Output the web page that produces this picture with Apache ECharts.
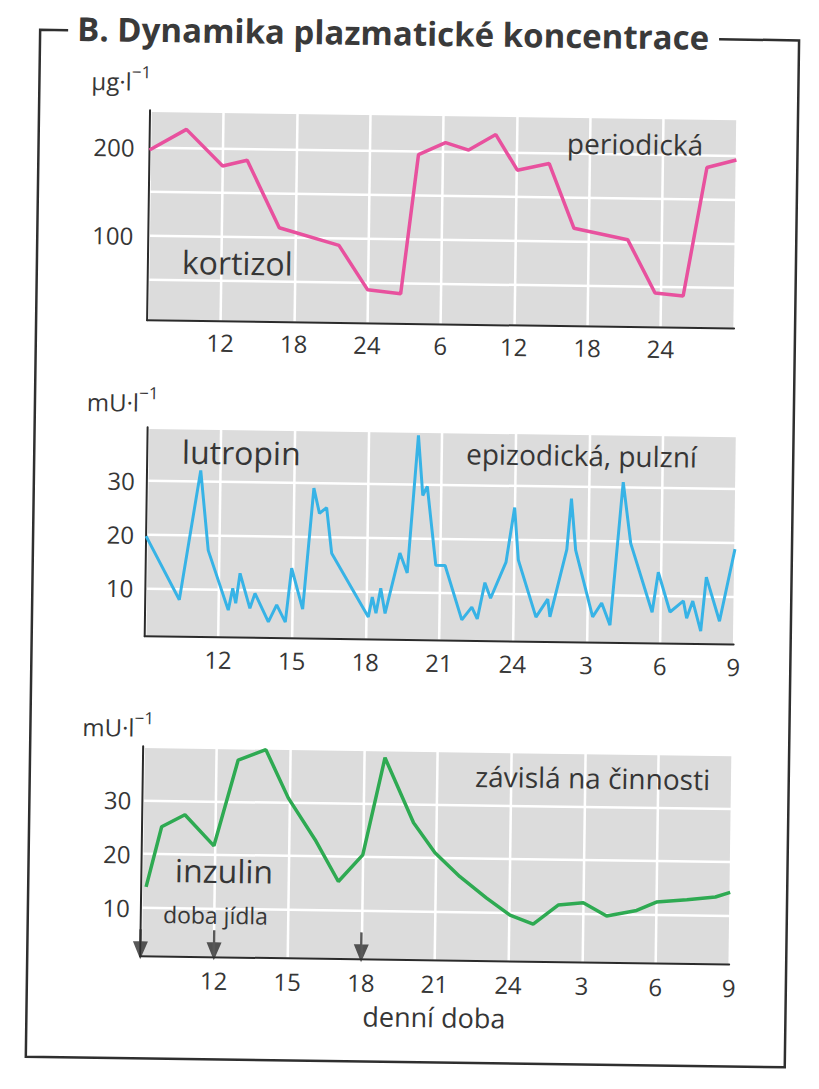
<!DOCTYPE html>
<html><head><meta charset="utf-8">
<script src="https://cdn.jsdelivr.net/npm/echarts@6/dist/echarts.min.js"></script>
<style>
html,body{margin:0;padding:0;background:#fff;overflow:hidden}
#c{width:819px;height:1089px;transform:rotate(0.8deg);transform-origin:409.5px 544.5px}
</style></head><body><div id="c"></div>
<script>
// ---- data ----
const kortizolTime  = [6, 9.0, 12.0, 14.0, 16.7, 21.6, 24.0, 26.7, 28.0, 30.2, 32.1, 34.3, 36.1, 38.7, 40.8, 45.2, 47.5, 49.8, 51.6, 54];
const kortizolValue = [197, 221, 180, 187, 111, 92, 42, 38, 196, 210, 202, 220, 180, 188, 115, 103, 43, 40, 186, 195];

const lutropinTime  = [9.0, 10.39, 11.19, 11.54, 12.39, 12.56, 12.69, 12.85, 13.27, 13.47, 14.03, 14.36, 14.72, 14.95, 15.42, 15.81, 16.05, 16.34, 16.57, 18.1, 18.25, 18.41, 18.59, 18.78, 19.35, 19.66, 20.04, 20.25, 20.43, 20.82, 21.2, 21.91, 22.31, 22.54, 22.83, 23.07, 23.68, 24.0, 24.18, 24.93, 25.4, 25.5, 26.15, 26.31, 26.51, 27.24, 27.6, 27.95, 28.41, 28.75, 29.66, 29.89, 30.39, 30.93, 31.07, 31.31, 31.65, 31.85, 32.41, 33];
const lutropinValue = [19.7, 7.9, 32.1, 17.2, 6.1, 10.2, 7.4, 13.0, 6.5, 9.3, 4.0, 7.2, 4.0, 14.1, 6.5, 29.1, 24.4, 25.5, 17.0, 5.2, 8.9, 5.9, 10.6, 5.9, 17.2, 13.5, 39.2, 28.0, 29.7, 15.0, 15.0, 4.9, 7.3, 5.1, 11.9, 9.0, 15.8, 26.0, 16.2, 5.6, 9.0, 5.7, 18.3, 27.8, 18.2, 5.8, 8.4, 4.3, 31.0, 19.6, 6.8, 14.3, 6.9, 9.0, 5.8, 9.0, 3.4, 13.5, 5.3, 18.8];

const inzulinTime  = [9.2, 9.8, 10.74, 11.94, 12.88, 14.0, 14.94, 16.06, 17.03, 18.01, 18.86, 20.06, 20.95, 21.98, 23.08, 24.04, 24.99, 26.0, 27.02, 27.98, 29.2, 30.0, 31.24, 32.4, 33];
const inzulinValue = [13.9, 25.1, 27.4, 21.7, 37.7, 39.7, 30.8, 23.1, 15.4, 20.4, 38.5, 26.5, 21.0, 16.6, 12.7, 9.6, 8.0, 11.6, 12.1, 9.7, 10.8, 12.4, 12.9, 13.5, 14.4];

const mealTimes = [9, 12, 18];

const kortizolXTicks  = [12, 18, 24, 30, 36, 42, 48];
const kortizolXLabels = ['12', '18', '24', '6', '12', '18', '24'];
const hormoneXTicks   = [12, 15, 18, 21, 24, 27, 30, 33];
const hormoneXLabels  = ['12', '15', '18', '21', '24', '3', '6', '9'];
const kortizolYLabels = [100, 200];
const hormoneYLabels  = [10, 20, 30];

// ---- style ----
const TXT = '#363636';
const FONT = '"Open Sans", "Noto Sans", sans-serif';
const AXIS = '#2b2b2b';
const BG = '#dcdcdc';

function xAxisDef(gi, min, max, interval, ticks, labels, margin) {
  return {
    type: 'value', gridIndex: gi, min: min, max: max, interval: interval,
    axisLine: {show: true, onZero: false, lineStyle: {color: AXIS, width: 2}},
    axisTick: {show: false},
    axisLabel: {show: true, margin: margin, fontFamily: FONT, fontSize: 24, color: TXT,
      showMinLabel: true, showMaxLabel: true,
      formatter: function (v) { const i = ticks.indexOf(v); return i < 0 ? '' : labels[i]; }},
    splitLine: {show: true, lineStyle: {color: '#ffffff', width: 2.5}}
  };
}
function yAxisDef(gi, min, max, splitNumber, labels, margin) {
  return {
    type: 'value', gridIndex: gi, min: min, max: max, splitNumber: splitNumber,
    axisLine: {show: true, onZero: false, lineStyle: {color: AXIS, width: 2}},
    axisTick: {show: false},
    axisLabel: {show: true, margin: margin, fontFamily: FONT, fontSize: 24, color: TXT,
      formatter: function (v) { return labels.indexOf(v) < 0 ? '' : String(v); }},
    splitLine: {show: true, lineStyle: {color: '#ffffff', width: 2.5}}
  };
}
function pairs(xs, ys) { return xs.map(function (x, i) { return [x, ys[i]]; }); }

function label(text, x, baseline, size, weight) {
  return {type: 'text', x: x, y: baseline - 0.3 * size, silent: true, z: 20,
    style: {text: text, font: (weight || 'normal') + ' ' + size + 'px ' + FONT, fill: TXT,
      textAlign: 'left', align: 'left', textVerticalAlign: 'middle', verticalAlign: 'middle'}};
}
function unitLabel(main, x, baseline) {
  return {type: 'text', x: x, y: baseline - 26, silent: true, z: 20,
    style: {text: '{a|' + main + '}{b|\u22121}',
      textAlign: 'left', align: 'left', textVerticalAlign: 'top', verticalAlign: 'top',
      rich: {
        a: {font: '24px ' + FONT, fill: TXT, lineHeight: 30, verticalAlign: 'bottom'},
        b: {font: '17px ' + FONT, fill: TXT, lineHeight: 18, verticalAlign: 'top'}
      }}};
}

const chart = echarts.init(document.getElementById('c'), null, {renderer: 'svg'});
chart.setOption({
  animation: false,
  backgroundColor: '#ffffff',
  grid: [
    {left: 144, top: 114, width: 587, height: 210, show: true, backgroundColor: BG, borderWidth: 0, containLabel: false, outerBoundsMode: 'none'},
    {left: 146, top: 431, width: 589, height: 209, show: true, backgroundColor: BG, borderWidth: 0, containLabel: false, outerBoundsMode: 'none'},
    {left: 146, top: 750, width: 589, height: 210, show: true, backgroundColor: BG, borderWidth: 0, containLabel: false, outerBoundsMode: 'none'}
  ],
  xAxis: [
    xAxisDef(0, 6, 54, 6, kortizolXTicks, kortizolXLabels, 9),
    xAxisDef(1, 9, 33, 3, hormoneXTicks, hormoneXLabels, 10),
    Object.assign(xAxisDef(2, 9, 33, 3, hormoneXTicks, hormoneXLabels, 11), {
      name: 'denní doba', nameLocation: 'middle', nameGap: 43,
      nameTextStyle: {fontFamily: FONT, fontSize: 27, color: TXT}
    })
  ],
  yAxis: [
    yAxisDef(0, 4, 242, 5, kortizolYLabels, 15),
    yAxisDef(1, 1, 40, 4, hormoneYLabels, 12),
    yAxisDef(2, 1, 40, 4, hormoneYLabels, 11)
  ],
  series: [
    {type: 'line', name: 'kortizol', xAxisIndex: 0, yAxisIndex: 0, data: pairs(kortizolTime, kortizolValue),
      symbol: 'none', lineStyle: {color: '#e8519e', width: 3.5}, z: 3, silent: true},
    {type: 'line', name: 'lutropin', xAxisIndex: 1, yAxisIndex: 1, data: pairs(lutropinTime, lutropinValue),
      symbol: 'none', lineStyle: {color: '#37b3e6', width: 3}, z: 3, silent: true},
    {type: 'line', name: 'inzulin', xAxisIndex: 2, yAxisIndex: 2, data: pairs(inzulinTime, inzulinValue),
      symbol: 'none', lineStyle: {color: '#2eaa52', width: 3.5}, z: 3, silent: true},
    {type: 'scatter', name: 'doba jídla', xAxisIndex: 2, yAxisIndex: 2, data: mealTimes.map(function (t) { return [t, 1]; }),
      symbol: 'path://M6.3,0 L8.7,0 L8.7,12 L15,12 L7.5,30 L0,12 L6.3,12 Z',
      symbolSize: [15, 30], symbolOffset: [0, -12], itemStyle: {color: '#2e2e2e'}, clip: false, z: 6, silent: true}
  ],
  graphic: [
    {type: 'polyline', silent: true, z: 1,
      shape: {points: [[61, 35], [33, 35], [33, 1062], [792, 1062], [792, 35], [712, 35]]},
      style: {stroke: '#2f2f2f', lineWidth: 2.5, fill: null}},
    {type: 'text', x: 386, y: 43 - 0.3 * 33, silent: true, z: 20,
      style: {text: 'B. Dynamika plazmatické koncentrace', font: 'bold 33px ' + FONT, fill: '#3a3a3a',
        textAlign: 'center', align: 'center', textVerticalAlign: 'middle', verticalAlign: 'middle'}},
    unitLabel('μg·l', 85, 93),
    unitLabel('mU·l', 85, 414),
    unitLabel('mU·l', 85, 739),
    label('kortizol', 178, 274.4, 32),
    label('periodická', 561.4, 148.9, 28),
    label('lutropin', 180.7, 464, 32),
    label('epizodická, pulzní', 464.8, 460.9, 28),
    label('inzulin', 179.6, 882.6, 32),
    label('doba jídla', 168.2, 924.4, 23),
    label('závislá na činnosti', 478.3, 783.4, 28)
  ]
});
</script></body></html>
